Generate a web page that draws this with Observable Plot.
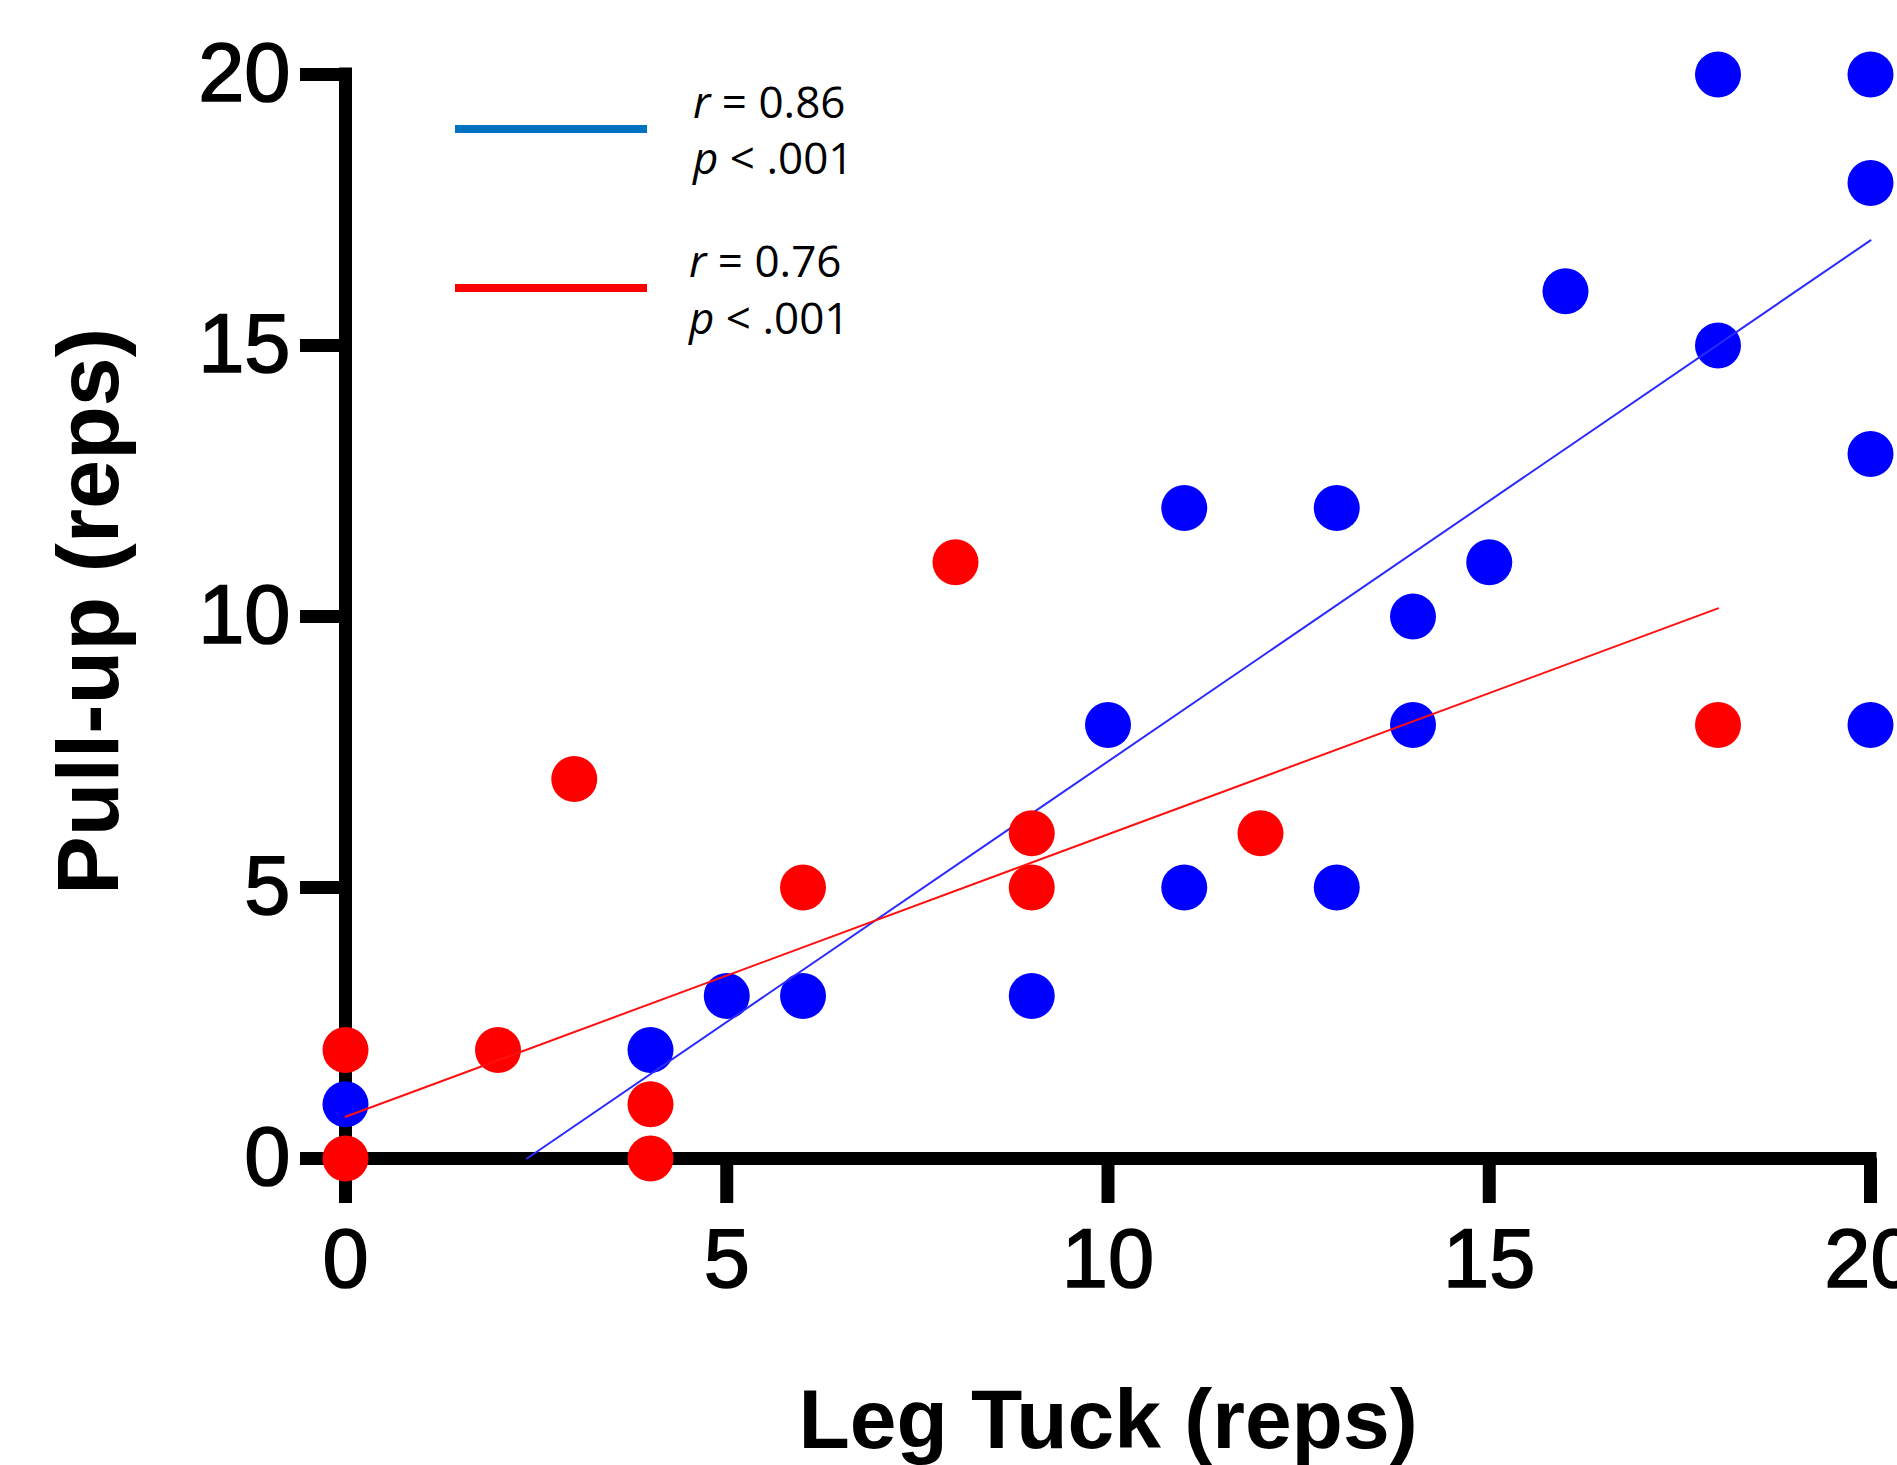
<!DOCTYPE html>
<html><head><meta charset="utf-8">
<script src="https://cdn.jsdelivr.net/npm/d3@7"></script>
<script src="https://cdn.jsdelivr.net/npm/@observablehq/plot@0.6"></script>
<style>
html,body{margin:0;padding:0;background:#fff;}
#wrap{position:relative;width:1897px;height:1465px;overflow:hidden;background:#fff;}
</style>
</head><body><div id="wrap"></div>
<script>
// Blue group
const blueX = [0, 4, 5, 6, 9, 10, 11, 11, 13, 13, 14, 14, 15, 16, 18, 18, 20, 20, 20, 20];
const blueY = [1, 2, 3, 3, 3, 8, 12, 5, 12, 5, 10, 8, 11, 16, 20, 15, 20, 18, 13, 8];
// Red group
const redX = [0, 0, 2, 3, 4, 4, 6, 8, 9, 9, 12, 18];
const redY = [2, 0, 2, 7, 1, 0, 5, 11, 6, 5, 6, 8];
// Regression line endpoints
const blueFitX = [2.38, 20];
const blueFitY = [0, 16.94];
const redFitX = [0, 18];
const redFitY = [0.77, 10.15];
// Ticks and labels
const xTicks = [0, 5, 10, 15, 20];
const yTicks = [0, 5, 10, 15, 20];
const xLabel = "Leg Tuck (reps)";
const yLabel = "Pull-up (reps)";
const legendR = ["0.86", "0.76"];
const legendP = [".001", ".001"];
const legendColors = ["#0070C0", "#FF0000"];

const blue = blueX.map((x, i) => ({x, y: blueY[i]}));
const red = redX.map((x, i) => ({x, y: redY[i]}));
const blueFit = blueFitX.map((x, i) => ({x, y: blueFitY[i]}));
const redFit = redFitX.map((x, i) => ({x, y: redFitY[i]}));

const font = "'Liberation Sans', Arial, Helvetica, sans-serif";

const plot = Plot.plot({
  width: 1897, height: 1465,
  marginLeft: 345, marginRight: 27, marginTop: 74, marginBottom: 307,
  x: {domain: [0, 20]},
  y: {domain: [0, 20]},
  style: {background: "#fff", fontFamily: font, color: "#000", overflow: "visible"},
  marks: [
    Plot.axisX({ticks: xTicks, tickSize: 45, strokeWidth: 13, tickPadding: 25, fontSize: 83, label: null, tickFormat: d => String(d), fontFamily: font}),
    Plot.axisY({ticks: yTicks, tickSize: 45, strokeWidth: 13, tickPadding: 10, fontSize: 83, label: null, tickFormat: d => String(d), fontFamily: font}),
    Plot.ruleY([0], {x1: 0, x2: 20, stroke: "#000", strokeWidth: 13, strokeLinecap: "square"}),
    Plot.ruleX([0], {y1: 0, y2: 20, stroke: "#000", strokeWidth: 13, strokeLinecap: "square"}),
    Plot.dot(blue, {x: "x", y: "y", r: 23, fill: "#0000FF", stroke: null}),
    Plot.line(blueFit, {x: "x", y: "y", stroke: "#2a2aff", strokeWidth: 2}),
    Plot.dot(red, {x: "x", y: "y", r: 23, fill: "#FF0000", stroke: null}),
    Plot.line(redFit, {x: "x", y: "y", stroke: "#ff1010", strokeWidth: 2}),
    Plot.text([xLabel], {frameAnchor: "bottom", dy: 289, lineAnchor: "bottom", textAnchor: "middle", fontSize: 84, fontWeight: "bold", fontFamily: font, fill: "#000"}),
    Plot.text([yLabel], {frameAnchor: "left", dx: -228, dy: -5, rotate: -90, lineAnchor: "bottom", textAnchor: "middle", fontSize: 88, fontWeight: "bold", fontFamily: font, fill: "#000"})
  ]
});
document.getElementById("wrap").appendChild(plot);

// Slightly heavier tick labels, as in the reference
d3.select(plot).selectAll("g[aria-label='x-axis tick label'] text, g[aria-label='y-axis tick label'] text")
  .attr("stroke", "#000").attr("stroke-width", 1.6).attr("paint-order", "stroke");

// Legend overlay
const ov = d3.select("#wrap").append("svg")
  .attr("width", 1897).attr("height", 1465)
  .style("position", "absolute").style("left", "0px").style("top", "0px");
const legendFont = "'Open Sans', 'Noto Sans', sans-serif";
const lineYs = [129, 288];
const rBase = [118, 277];
const pBase = [174, 334];
const textX = [693, 689];
legendR.forEach((rv, i) => {
  ov.append("line").attr("x1", 455).attr("x2", 647).attr("y1", lineYs[i]).attr("y2", lineYs[i])
    .attr("stroke", legendColors[i]).attr("stroke-width", 8);
  const t1 = ov.append("text").attr("x", textX[i]).attr("y", rBase[i])
    .attr("font-family", legendFont).attr("font-size", 44).attr("fill", "#000");
  t1.append("tspan").attr("font-style", "italic").text("r");
  t1.append("tspan").text(" = " + rv);
  const t2 = ov.append("text").attr("x", textX[i]).attr("y", pBase[i])
    .attr("font-family", legendFont).attr("font-size", 44).attr("fill", "#000");
  t2.append("tspan").attr("font-style", "italic").text("p");
  t2.append("tspan").text(" < " + legendP[i]);
});
</script>
</body></html>
